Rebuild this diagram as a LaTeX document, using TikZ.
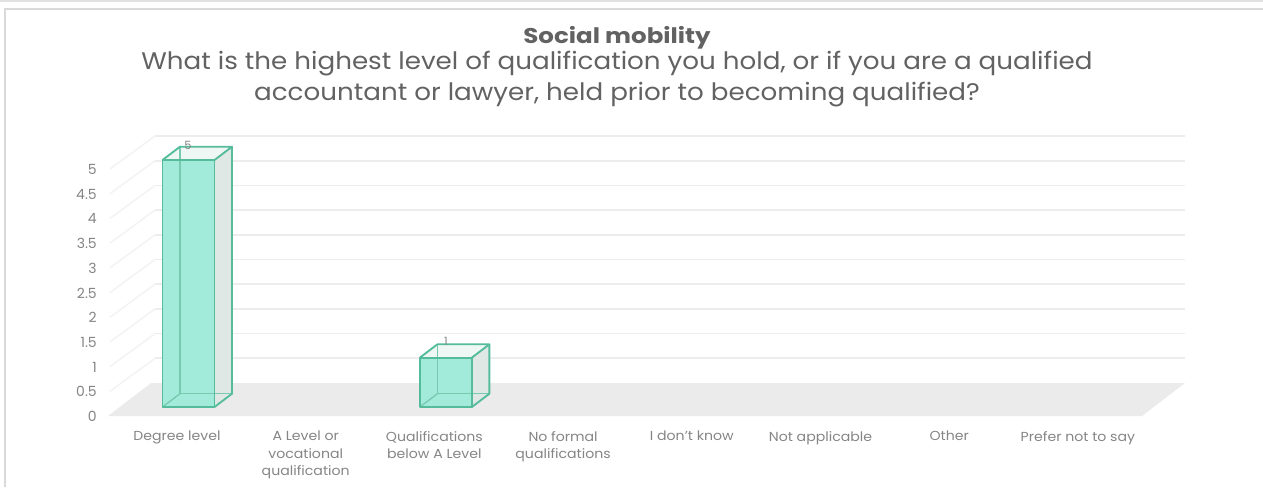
\documentclass[tikz,border=0pt]{standalone}
\usepackage{fontspec}
\setmainfont{Poppins}
\newfontfamily\widefont[FakeStretch=1.09]{Poppins}
\newfontfamily\widertitle[FakeStretch=1.15]{Poppins}
\newfontfamily\catfont[FakeStretch=1.08]{Poppins}
\definecolor{txt}{HTML}{626262}
\definecolor{lbl}{HTML}{858585}
\definecolor{gridc}{HTML}{EDEDED}
\definecolor{floorc}{HTML}{EBEBEB}
\definecolor{mint}{HTML}{A2EADA}
\definecolor{mintedge}{HTML}{55BC9B}
\definecolor{sidec}{HTML}{E0E8E6}
\definecolor{topc}{HTML}{EEF7F4}
\definecolor{framec}{HTML}{D9D9D9}
\tikzset{
  gridline/.style={draw=gridc, line width=1.3},
  sideline/.style={draw=gridc!60, line width=1.3},
  ticklbl/.style={anchor=east, text=lbl, inner sep=0pt, font=\fontsize{10.5}{12}\selectfont},
  catlbl/.style={anchor=north, text=lbl, inner sep=0pt, align=center, font=\catfont\fontsize{9.8}{13.1}\selectfont},
  vallbl/.style={text=lbl, inner sep=0pt, font=\fontsize{8.5}{10}\selectfont},
  baredge/.style={draw=mintedge, line width=1.4, line join=round},
  backedge/.style={draw=mintedge!80, line width=1.0},
}
\begin{document}
\begin{tikzpicture}[x=0.75pt,y=-0.75pt]
\useasboundingbox (0,0) rectangle (1263,487);
% frame
\fill[framec!80] (0,0) rectangle (1263,1.6);
\draw[framec, line width=1.5] (5,487) -- (5,8.5) -- (1263,8.5);
% titles
\node[anchor=base, text=txt, inner sep=0pt, font=\widertitle\bfseries\fontsize{16}{18}\selectfont] (title) at (617,43) {Social mobility};
\node[anchor=base, text=txt, inner sep=0pt, font=\widefont\fontsize{18}{20}\selectfont] (sub1) at (617,69) {What is the highest level of qualification you hold, or if you are a qualified};
\node[anchor=base, text=txt, inner sep=0pt, font=\widefont\fontsize{18}{20}\selectfont] (sub2) at (617,100) {accountant or lawyer, held prior to becoming qualified?};
% floor
\fill[floorc] (108,416) -- (151,383) -- (1185,383) -- (1142,416) -- cycle;
% grid lines
\foreach \k in {1,...,10}{
  \draw[gridline] (155,{383-24.7*\k}) -- (1185,{383-24.7*\k});
  \draw[sideline] (110,{416-24.7*\k}) -- (155,{383-24.7*\k});
}
% tick labels
\foreach \k/\t in {0/0,1/0.5,2/1,3/1.5,4/2,5/2.5,6/3,7/3.5,8/4,9/4.5,10/5}{
  \node[ticklbl] (t\k) at (97,{416.5-24.7*\k}) {\t};
}
% bars
\foreach \i/\v in {0/5,2/1}{
  \pgfmathsetmacro{\cx}{188.5+128.7*\i}
  \pgfmathsetmacro{\xl}{\cx-26}
  \pgfmathsetmacro{\xr}{\cx+26}
  \pgfmathsetmacro{\yt}{407-49.4*\v}
  \def\dx{17.5}\def\dy{-13.3}
  \fill[sidec] (\xr,407) -- (\xr+\dx,407+\dy) -- (\xr+\dx,\yt+\dy) -- (\xr,\yt) -- cycle;
  \fill[topc] (\xl,\yt) -- (\xl+\dx,\yt+\dy) -- (\xr+\dx,\yt+\dy) -- (\xr,\yt) -- cycle;
  \fill[mint] (\xl,\yt) rectangle (\xr,407);
  \draw[backedge] (\xl+\dx,\yt+\dy) -- (\xl+\dx,407+\dy) -- (\xr+\dx,407+\dy);
  \draw[backedge] (\xl,407) -- (\xl+\dx,407+\dy);
  \draw[baredge] (\xl,\yt) rectangle (\xr,407);
  \draw[baredge] (\xl,\yt) -- (\xl+\dx,\yt+\dy) -- (\xr+\dx,\yt+\dy) -- (\xr,\yt);
  \draw[baredge] (\xr+\dx,\yt+\dy) -- (\xr+\dx,407+\dy) -- (\xr,407);
}
\node[vallbl] (v1) at (188,145.5) {5};
\node[vallbl] (v3) at (446,341.5) {1};
% category labels
\node[catlbl] (c1) at (177,431) {Degree level};
\node[catlbl] (c2) at (305.7,431) {A Level or\\vocational\\qualification};
\node[catlbl] (c3) at (434.4,431) {Qualifications\\below A Level};
\node[catlbl] (c4) at (563.1,431) {No formal\\qualifications};
\node[catlbl] (c5) at (691.8,431) {I don’t know};
\node[catlbl] (c6) at (820.5,431) {Not applicable};
\node[catlbl] (c7) at (949.2,431) {Other};
\node[catlbl] (c8) at (1077.9,431) {Prefer not to say};
\end{tikzpicture}
\end{document}
